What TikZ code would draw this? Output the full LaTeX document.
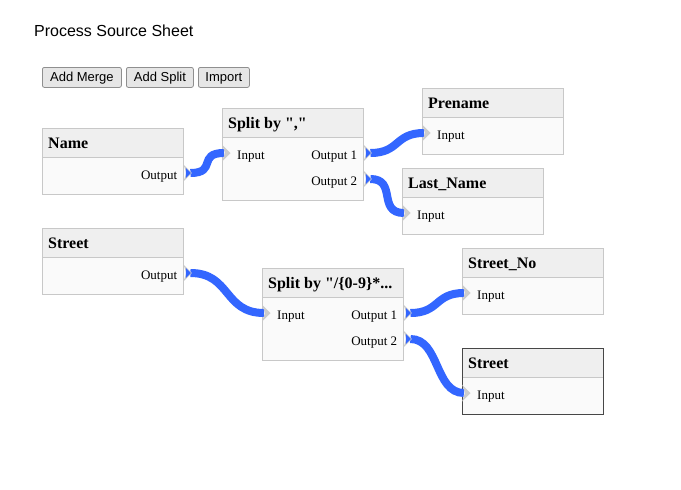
\documentclass[tikz,border=0pt]{standalone}
\usepackage{fontspec}
\setmainfont{Liberation Serif}[Ligatures=TeXOff]
\setsansfont{Liberation Sans}
\usetikzlibrary{calc}
\definecolor{bdc}{HTML}{C8C8C8}
\definecolor{hdc}{HTML}{EFEFEF}
\definecolor{bgc}{HTML}{FAFAFA}
\definecolor{wirec}{HTML}{3366FF}
\definecolor{portc}{HTML}{CCCCCC}
\definecolor{btnc}{HTML}{E6E6E6}
\definecolor{btnb}{HTML}{8F8F8F}
\tikzset{
  boxbody/.style={fill=bgc, inner sep=0pt, minimum width=141},
  boxtitle/.style={anchor=base west, inner sep=0pt, font=\bfseries\fontsize{16}{19}\selectfont},
  lbl/.style={inner sep=0pt, font=\fontsize{13}{15}\selectfont},
  btn/.style={draw=btnb, fill=btnc, rounded corners=2pt, line width=0.8pt, inner sep=0pt,
    text height=10.5pt, text depth=1.5pt,
    minimum height=20, anchor=north west, font=\sffamily\fontsize{13}{15}\selectfont},
  wirestyle/.style={draw=wirec, line width=8pt},
}
\newcommand\procbox[6]{%
  \node[boxbody, minimum height=#4, anchor=north west] (#1) at (#2,#3) {};
  \fill[hdc] (#1.north west) rectangle ([yshift=-29pt]#1.north east);
  \draw[bdc, line width=1pt] ([yshift=-29pt]#1.north west) -- ([yshift=-29pt]#1.north east);
  \draw[#6, line width=1pt] (#1.north west) rectangle (#1.south east);
  \node[boxtitle] (#1T) at ([shift={(6pt,-20.5pt)}]#1.north west) {#5};
  \coordinate (#1I) at ([yshift=-45pt]#1.north west);
  \coordinate (#1O) at ([yshift=-45pt]#1.north east);
  \coordinate (#1P) at ([yshift=-71pt]#1.north east);
}
\newcommand\inlbl[2]{\node[lbl, anchor=base west] (#1LI) at ([shift={(15pt,-51pt)}]#1.north west) {#2};}
\newcommand\outlbl[3]{\node[lbl, anchor=base east] (#1L#3) at ([shift={(-6pt,-#3pt)}]#1.north east) {#2};}
\newcommand\chev[1]{\fill[portc] ([yshift=8.5pt]#1) -- ++(8.5pt,-8.5pt) -- ++(-8.5pt,-8.5pt) -- ++(3pt,8.5pt) -- cycle;}
\newcommand\outport[1]{\chev{#1}\fill[wirec] ([shift={(2.5pt,5pt)}]#1) -- ++(5pt,-5pt) -- ++(-5pt,-5pt) -- cycle;}
\newcommand\wire[2]{%
  \coordinate (wa) at ([xshift=7pt]#1);
  \coordinate (wb) at ([xshift=2pt]#2);
  \draw[wirestyle] let \p1=($(wb)-(wa)$), \n1={max(0.55*\x1,27pt)} in
    (wa) .. controls ([xshift=\n1]wa) and ([xshift=-\n1]wb) .. (wb);
}
\begin{document}
\begin{tikzpicture}[x=1pt,y=-1pt]
\useasboundingbox[fill=white] (0,0) rectangle (681,490);
\node[anchor=base west, inner sep=0pt, font=\sffamily\fontsize{16}{19}\selectfont] (title) at (34,36.5) {Process Source Sheet};
\node[btn, minimum width=79] (bmerge) at (42,67) {Add Merge};
\node[btn, minimum width=67] (bsplit) at (126,67) {Add Split};
\node[btn, minimum width=51] (bimport) at (198,67) {Import};

\procbox{name}{42}{128}{66}{Name}{bdc}
\outlbl{name}{Output}{51}
\procbox{streetA}{42}{228}{66}{Street}{bdc}
\outlbl{streetA}{Output}{51}
\procbox{splitA}{222}{108}{92}{Split by ","}{bdc}
\inlbl{splitA}{Input}
\outlbl{splitA}{Output 1}{51}
\outlbl{splitA}{Output 2}{77}
\procbox{prename}{422}{88}{66}{Prename}{bdc}
\inlbl{prename}{Input}
\procbox{lastname}{402}{168}{66}{Last\_Name}{bdc}
\inlbl{lastname}{Input}
\procbox{splitB}{262}{268}{92}{Split by "/\{0-9\}*...}{bdc}
\inlbl{splitB}{Input}
\outlbl{splitB}{Output 1}{51}
\outlbl{splitB}{Output 2}{77}
\procbox{streetno}{462}{248}{66}{Street\_No}{bdc}
\inlbl{streetno}{Input}
\procbox{streetB}{462}{348}{66}{Street}{black!72}
\inlbl{streetB}{Input}

\wire{nameO}{splitAI}
\wire{splitAO}{prenameI}
\wire{splitAP}{lastnameI}
\wire{streetAO}{splitBI}
\wire{splitBO}{streetnoI}
\wire{splitBP}{streetBI}

\outport{nameO}
\outport{streetAO}
\outport{splitAO}
\outport{splitAP}
\outport{splitBO}
\outport{splitBP}
\chev{splitAI}
\chev{prenameI}
\chev{lastnameI}
\chev{splitBI}
\chev{streetnoI}
\chev{streetBI}
\end{tikzpicture}
\end{document}
